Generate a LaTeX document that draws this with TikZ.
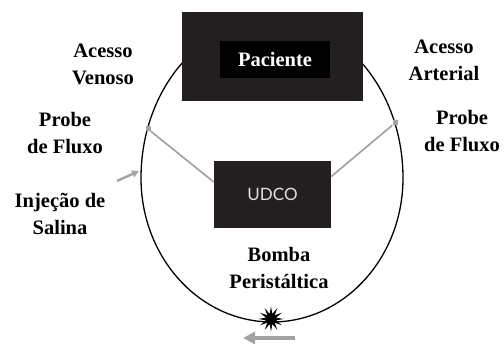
\documentclass[tikz,border=0pt]{standalone}
\usepackage{fontspec}
\setmainfont{Liberation Serif}
\newfontfamily\udcofont{Lato}
\usepackage{xcolor}
\usepackage{tikz}
\usetikzlibrary{arrows.meta, positioning, shapes.geometric}

\definecolor{boxdark}{HTML}{231F20}
\definecolor{probegray}{HTML}{A3A3A3}

\begin{document}
\begin{tikzpicture}[
  x=1pt, y=1pt,
  label/.style={
    align=center,
    font=\fontsize{20.5}{27}\selectfont\bfseries
  },
  darkbox/.style={
    rectangle,
    fill=#1,
    inner sep=0pt
  },
  probe/.style={
    rectangle,
    fill=probegray,
    minimum size=5pt,
    inner sep=0pt
  },
  link/.style={
    draw=probegray,
    line width=1.7pt
  },
  flow/.style={
    draw=probegray,
    -{Triangle[length=#1, width=#1]}
  }
]
\useasboundingbox (0,0) rectangle (504,344);

% Circuit loop
\draw[line width=1.3pt] (141,166) arc[start angle=180, end angle=0, x radius=131, y radius=158];
\draw[line width=1.3pt] (141,166) arc[start angle=180, end angle=360, x radius=131, y radius=144];

% Patient and controller boxes
\node[darkbox=boxdark, minimum width=181pt, minimum height=89pt] (pac) at (272.5,287.5) {};
\node[darkbox=black, minimum width=110pt, minimum height=37pt, text=white,
      font=\fontsize{20.5}{24}\selectfont\bfseries] (pactext) at (275,284.5) {Paciente};
\node[darkbox=boxdark, minimum width=117pt, minimum height=67pt, text=white!88!black,
      font=\udcofont\fontsize{17}{20}\selectfont] (udco) at (272.5,149.5) {UDCO};

% Flow probes
\node[probe] (probeL) at (148,215) {};
\node[probe] (probeR) at (395,221) {};
\draw[link] (probeL) -- (udco.168);
\draw[link] (probeR) -- (udco.17);

% Saline injection and pump direction
\coordinate (injfrom) at (117,163);
\coordinate (injto) at (139,173);
\draw[flow=7pt, line width=2.4pt] (injfrom) -- (injto);
\coordinate (pumpfrom) at (295,6);
\coordinate (pumpto) at (243,6);
\draw[flow=12pt, line width=4.5pt] (pumpfrom) -- (pumpto);
\node[star, star points=12, star point ratio=2.4, fill=black, minimum size=25pt,
      inner sep=0pt] (pump) at (271,25) {};

% Labels
\node[label] (venoso) at (103,280) {Acesso\\Venoso};
\node[label] (arterial) at (444,284) {Acesso\\Arterial};
\node[label] (fluxoL) at (65,211) {Probe\\de Fluxo};
\node[label] (fluxoR) at (462,213) {Probe\\de Fluxo};
\node[label] (salina) at (60,130) {Injeção de\\Salina};
\node[label] (bomba) at (279,76) {Bomba\\Peristáltica};
\end{tikzpicture}
\end{document}
